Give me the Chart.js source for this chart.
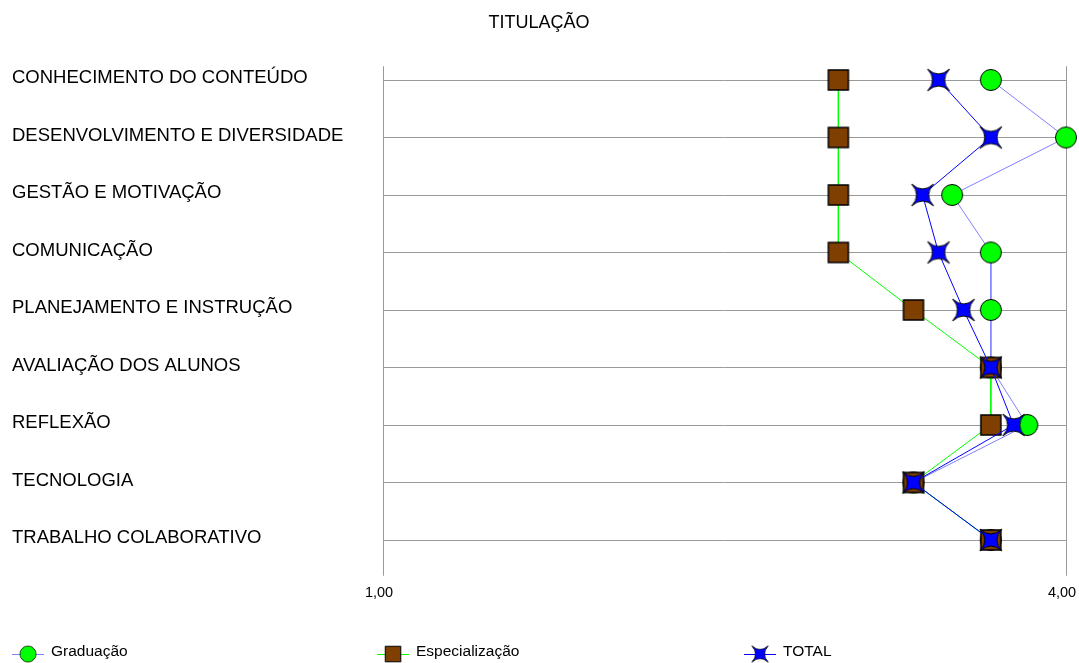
<!DOCTYPE html>
<html>
<head>
<meta charset="utf-8">
<title>Titulação</title>
<script src="https://cdn.jsdelivr.net/npm/chart.js"></script>
<style>
	html, body { margin: 0; padding: 0; background: #ffffff; }
</style>
</head>
<body>
<canvas id="titulacao_chart" width="1079" height="663"></canvas>
<script>
// categorias e médias por titulação (escala de 1 a 4)
const categorias = [
	'CONHECIMENTO DO CONTEÚDO',
	'DESENVOLVIMENTO E DIVERSIDADE',
	'GESTÃO E MOTIVAÇÃO',
	'COMUNICAÇÃO',
	'PLANEJAMENTO E INSTRUÇÃO',
	'AVALIAÇÃO DOS ALUNOS',
	'REFLEXÃO',
	'TECNOLOGIA',
	'TRABALHO COLABORATIVO'
];
const graduacao      = [3.67, 4.00, 3.50, 3.67, 3.67, 3.67, 3.83, 3.33, 3.67];
const especializacao = [3.00, 3.00, 3.00, 3.00, 3.33, 3.67, 3.67, 3.33, 3.67];
const total          = [3.44, 3.67, 3.37, 3.44, 3.55, 3.67, 3.77, 3.33, 3.67];
const escalaTicks    = [1, 4];

const FONTE = "'Liberation Sans', Arial, sans-serif";

// marcadores desenhados em canvas próprios
function makeCircle() {
	const c = document.createElement('canvas');
	c.width = 24; c.height = 24;
	const g = c.getContext('2d');
	g.beginPath();
	g.arc(12, 12, 10.5, 0, Math.PI * 2);
	g.fillStyle = '#00ff00';
	g.fill();
	g.lineWidth = 1;
	g.strokeStyle = '#000000';
	g.stroke();
	return c;
}

function makeSquare() {
	const c = document.createElement('canvas');
	c.width = 24; c.height = 24;
	const g = c.getContext('2d');
	g.fillStyle = '#7f3f00';
	g.fillRect(2, 2, 20, 20);
	g.lineWidth = 1.5;
	g.strokeStyle = '#000000';
	g.strokeRect(2, 2, 20, 20);
	return c;
}

// estrela de quatro pontas, pontas nas diagonais e lados côncavos
function makeStar() {
	const c = document.createElement('canvas');
	c.width = 26; c.height = 26;
	const g = c.getContext('2d');
	const cx = 13, cy = 13, a = 11, k = 1;
	g.beginPath();
	g.moveTo(cx - a, cy - a);
	g.quadraticCurveTo(cx, cy - k, cx + a, cy - a);
	g.quadraticCurveTo(cx + k, cy, cx + a, cy + a);
	g.quadraticCurveTo(cx, cy + k, cx - a, cy + a);
	g.quadraticCurveTo(cx - k, cy, cx - a, cy - a);
	g.closePath();
	g.fillStyle = '#0000ff';
	g.fill();
	g.lineWidth = 1;
	g.strokeStyle = '#000000';
	g.stroke();
	return c;
}

const pontoCirculo = makeCircle();
const pontoQuadrado = makeSquare();
const pontoEstrela = makeStar();

// linhas verticais nos extremos da escala
const linhasVerticais = {
	id: 'linhasVerticais',
	beforeDatasetsDraw(chart) {
		const ctx = chart.ctx;
		const x = chart.scales.x;
		const area = chart.chartArea;
		ctx.save();
		ctx.strokeStyle = '#9a9a9a';
		ctx.lineWidth = 1;
		escalaTicks.forEach(v => {
			const px = Math.round(x.getPixelForValue(v)) + 0.5;
			ctx.beginPath();
			ctx.moveTo(px, area.top + 15);
			ctx.lineTo(px, area.bottom + 7);
			ctx.stroke();
		});
		ctx.restore();
	}
};

// legenda em linha no rodapé
const legendaRodape = {
	id: 'legendaRodape',
	afterDraw(chart) {
		const ctx = chart.ctx;
		const posicoes = [28, 393, 760];
		const y = 654;
		ctx.save();
		chart.data.datasets.forEach((ds, i) => {
			const x0 = posicoes[i];
			ctx.strokeStyle = ds.borderColor;
			ctx.lineWidth = 1;
			ctx.beginPath();
			ctx.moveTo(x0 - 16, y + 0.5);
			ctx.lineTo(x0 + 16, y + 0.5);
			ctx.stroke();
			const img = ds.pointStyle;
			const s = 16 / 21;
			const w = img.width * s, h = img.height * s;
			ctx.drawImage(img, x0 - w / 2, y - h / 2, w, h);
			ctx.fillStyle = '#000000';
			ctx.font = '15.5px ' + FONTE;
			ctx.textBaseline = 'middle';
			ctx.textAlign = 'left';
			ctx.fillText(ds.label, x0 + 23, y - 2);
		});
		ctx.restore();
	}
};

const ctx = document.getElementById('titulacao_chart').getContext('2d');
new Chart(ctx, {
	type: 'line',
	data: {
		labels: categorias,
		datasets: [{
			label: 'Graduação',
			data: graduacao,
			borderColor: '#8080ff',
			borderWidth: 1,
			pointStyle: pontoCirculo,
			order: 3,
			clip: false
		}, {
			label: 'Especialização',
			data: especializacao,
			borderColor: '#00ff00',
			borderWidth: 1,
			pointStyle: pontoQuadrado,
			order: 2,
			clip: false
		}, {
			label: 'TOTAL',
			data: total,
			borderColor: '#0000ff',
			borderWidth: 1,
			pointStyle: pontoEstrela,
			order: 1,
			clip: false
		}]
	},
	options: {
		responsive: false,
		animation: false,
		indexAxis: 'y',
		layout: {
			padding: { left: 12, right: 13, top: 0, bottom: 60 }
		},
		scales: {
			x: {
				type: 'linear',
				min: 1,
				max: 4,
				afterBuildTicks: s => { s.ticks = escalaTicks.map(v => ({ value: v })); },
				afterFit: s => { s.height = 34.25; s.paddingLeft = 0; s.paddingRight = 0; },
				grid: { display: false, drawTicks: false },
				border: { display: false },
				ticks: {
					padding: 16,
					maxRotation: 0,
					labelOffset: -4,
					color: '#000000',
					font: { family: FONTE, size: 14.5 },
					callback: v => v.toFixed(2).replace('.', ',')
				}
			},
			y: {
				type: 'category',
				offset: true,
				afterFit: s => { s.width = 371; },
				grid: { color: '#9a9a9a', lineWidth: 1, drawTicks: false },
				border: { display: false },
				ticks: {
					crossAlign: 'far',
					labelOffset: -2,
					color: '#000000',
					font: { family: FONTE, size: 18.5 }
				}
			}
		},
		plugins: {
			legend: { display: false },
			tooltip: { enabled: false },
			title: {
				display: true,
				text: 'TITULAÇÃO',
				color: '#000000',
				font: { family: FONTE, size: 18, weight: 'normal' },
				padding: { top: 12, bottom: 17.65 }
			}
		}
	},
	plugins: [linhasVerticais, legendaRodape]
});
</script>
</body>
</html>
